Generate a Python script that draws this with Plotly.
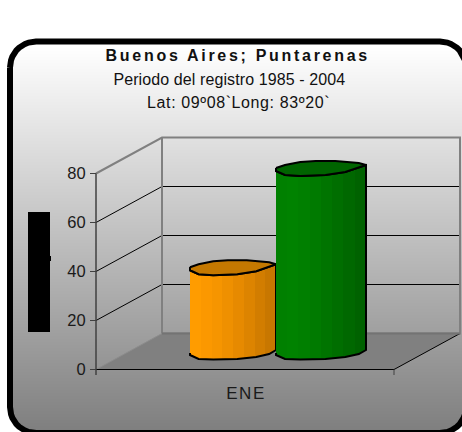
import numpy as np
import plotly.graph_objects as go

# --- data ---
categories = ["ENE"]
series_names = ["Serie A", "Serie B"]
series_a = [35.0]
series_b = [75.5]
y_ticks = [0, 20, 40, 60, 80]
title_lines = ["Buenos Aires; Puntarenas", "Periodo del registro 1985 - 2004", "Lat: 09º08`Long: 83º20`"]

# --- geometry (x axis runs in pixels, y axis in chart units) ---
W, H = 462, 432
U = 2.45           # pixels per unit
Y0 = 369.5         # pixel row of value 0
def V(px):
    return (Y0 - px) / U
DX, DY = 66, 36 / U
XL, XR = 96, 394

fig = go.Figure()

def poly(xs, ys, **kw):
    kw.setdefault("line", dict(width=0))
    fig.add_trace(go.Scatter(x=list(xs), y=list(ys), mode="lines", hoverinfo="skip", showlegend=False, **kw))

# rounded panel: vertical shading in thin rows, then the border on top
PX0, PY0, PX1, PY1, PR = 10, 41.5, 466, 433, 26
def inset(y):
    d = 0.0
    if y < PY0 + PR:
        d = PY0 + PR - y
    elif y > PY1 - PR:
        d = y - (PY1 - PR)
    d = min(d, PR)
    return PR - np.sqrt(PR*PR - d*d) if d > 0 else 0.0

rows = np.arange(42, 434, 3)
for a, b in zip(rows[:-1], rows[1:]):
    t = np.clip((a - 45) / (430 - 45), 0, 1)
    g = int(round(255 + (127 - 255) * t))
    poly([PX0 + inset(a), PX1 - inset(a), PX1 - inset(b), PX0 + inset(b)],
         [V(a), V(a), V(b), V(b)], fill="toself", fillcolor=f"rgb({g},{g},{g})")

def rounded(x0, y0, x1, y1, r):
    pts = []
    for cx, cy, a0 in [(x0+r, y0+r, 180), (x1-r, y0+r, 270), (x1-r, y1-r, 0), (x0+r, y1-r, 90)]:
        for a in np.radians(np.linspace(a0, a0+90, 12)):
            pts.append((cx + r*np.cos(a), cy + r*np.sin(a)))
    pts.append(pts[0])
    return [p[0] for p in pts], [V(p[1]) for p in pts]

px_, py_ = rounded(PX0, PY0, PX1, PY1, PR)
poly(px_, py_, line=dict(color="#000000", width=6))

# blacked-out axis title block
poly([28, 50, 50, 51, 51, 50, 50, 28, 28],
     [V(212), V(212), V(256), V(256), V(261), V(261), V(332), V(332), V(212)],
     fill="toself", fillcolor="#000000")

# floor
poly([XL, XR, XR+DX, XL+DX, XL], [0, 0, DY, DY, 0], fill="toself", fillcolor="#808080")

# grid lines
gx, gy = [], []
for t in y_ticks[1:-1]:
    gx += [XL, XL+DX, XR+DX, None]
    gy += [t, t+DY, t+DY, None]
poly(gx, gy, line=dict(color="#000000", width=1))

# walls
top = y_ticks[-1]
poly([XL, XL+DX, XR+DX, XR+DX, XL+DX, XL+DX], [top, top+DY, top+DY, DY, DY, top+DY],
     line=dict(color="#808080", width=2))
poly([XL, XL+DX], [0, DY], line=dict(color="#8c8c8c", width=1))
poly([XR, XR+DX], [0, DY], line=dict(color="#000000", width=1))
poly([XL+DX, XR+DX], [DY, DY], line=dict(color="#737373", width=2))

# front axes
poly([XL-6, XR], [0, 0], line=dict(color="#000000", width=1.2))
poly([XL, XL], [top, V(375)], line=dict(color="#404040", width=1.5))
poly([XR, XR], [0, V(375)], line=dict(color="#404040", width=1))

# cylinders
BASE = V(353)
cap_back = [(0, 0), (.10, -3), (.27, -6), (.44, -7), (.66, -7), (.92, -5), (1, -3)]
cap_front = [(1, -3), (.77, 4), (.55, 7), (.27, 8), (.10, 7), (0, 3), (0, 0)]
foot = [(1, -3), (.92, 1), (.77, 4), (.55, 6), (.27, 6.5), (.10, 6), (0, 2), (0, 0)]

def cylinder(x0, x1, value, bands, cap):
    w = x1 - x0
    ytop = BASE + value
    fx = [x0 + a*w for a, _ in foot]
    fy = [BASE - b/U for _, b in foot]
    tfx = [x0 + a*w for a, _ in cap_front]
    tfy = [ytop - b/U for _, b in cap_front]
    # body: along the front edge of the cap, then down and back along the foot
    bx = tfx[::-1] + fx
    by = tfy[::-1] + fy
    n = len(bands)
    scale = []
    for i, c in enumerate(bands):
        scale += [[i/n, c], [(i+1)/n, c]]
    poly(bx, by, fill="toself", line=dict(color="#000000", width=2),
         fillgradient=dict(type="horizontal", colorscale=scale))
    cx = [x0 + a*w for a, _ in cap_back] + tfx
    cy = [ytop - b/U for _, b in cap_back] + tfy
    poly(cx, cy, fill="toself", fillcolor=cap, line=dict(color="#000000", width=2))

cylinder(190, 276, series_a[0],
         ["#ff9c00", "#fb9800", "#f69500", "#ef9000", "#e78a00", "#dd8400", "#d27d00", "#c87700"], "#c47800")
cylinder(276, 366, series_b[0],
         ["#008000", "#008200", "#007f00", "#007a00", "#007400", "#006e00", "#006800", "#006200"], "#006400")

# titles
for txt, xpx, ypx, bold in zip(title_lines, [238, 229, 238.5], [55.5, 79, 102.5], [True, False, False]):
    fig.add_annotation(x=xpx, y=V(ypx), text=f"<b>{txt}</b>" if bold else txt,
                       showarrow=False, xanchor="center", yanchor="middle",
                       font=dict(family="Liberation Sans", size=16, color="#111111"))

fig.update_layout(
    width=W, height=H, margin=dict(l=0, r=0, t=0, b=0), autosize=False,
    paper_bgcolor="#ffffff", plot_bgcolor="#ffffff", showlegend=False,
    xaxis=dict(range=[0, W], showgrid=False, zeroline=False, showline=False,
               tickmode="array", tickvals=[(XL+XR)/2 + 1], ticktext=categories,
               ticks="outside", ticklen=8, tickcolor="rgba(0,0,0,0)",
               tickfont=dict(family="Liberation Sans", size=17, color="#1a1a1a"),
               anchor="free", position=(H-Y0)/H),
    yaxis=dict(range=[V(H), V(0)], showgrid=False, zeroline=False, showline=False,
               tickmode="array", tickvals=y_ticks, ticks="outside", ticklen=6, tickcolor="#404040",
               ticklabelstandoff=1,
               tickfont=dict(family="Liberation Sans", size=16.5, color="#1a1a1a"),
               anchor="free", position=XL/W),
)

# page margin off; letter spacing of the title lines, as in the reference
post = """
document.body.style.margin='0';
var sp=['2.7px','0.1px','0.6px'];
document.querySelectorAll('.annotation-text').forEach(function(t,i){t.style.letterSpacing=sp[i]||'0';});
document.querySelectorAll('.xtick text').forEach(function(t){t.style.letterSpacing='1.5px';});
"""
fig.write_html("out.html", post_script=post, config={"displayModeBar": False})
